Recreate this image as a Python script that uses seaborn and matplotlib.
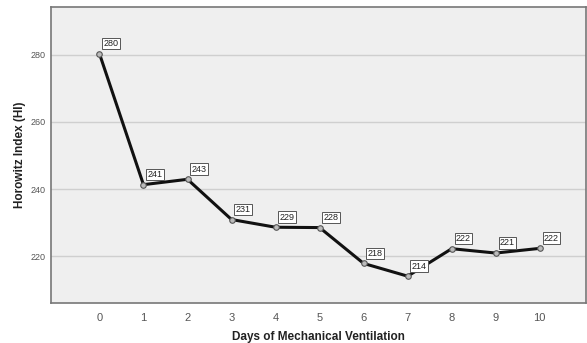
import seaborn as sns
import matplotlib.pyplot as plt
import matplotlib as mpl
import pandas as pd
mpl.use("Agg")

# days and mean Horowitz index
days = [0, 1, 2, 3, 4, 5, 6, 7, 8, 9, 10]
hi_mean = [280.4, 241.3, 242.9, 230.9, 228.6, 228.5, 217.8, 214.0, 222.2, 220.9, 222.3]
hi_labels = ['280', '241', '243', '231', '229', '228', '218', '214', '222', '221', '222']
yticks = [220, 240, 260, 280]

df = pd.DataFrame({'day': days, 'hi': hi_mean})

sns.set_style('white')
plt.rcParams['font.family'] = ['Liberation Sans', 'DejaVu Sans']

fig = plt.figure(figsize=(5.87, 3.43), dpi=100)
ax = fig.add_axes([51/587, 40/343, 535/587, 296/343])
ax.set_facecolor('#efefef')

sns.lineplot(data=df, x='day', y='hi', ax=ax, color='#111111', linewidth=2.2,
             marker='o', markersize=4, markerfacecolor='#bbbbbb',
             markeredgecolor='#555555', markeredgewidth=0.8, zorder=3)

for d, v, lab in zip(days, hi_mean, hi_labels):
    ax.annotate(lab, (d, v), xytext=(3, 4), textcoords='offset points',
                fontsize=6.5, color='#222222', ha='left', va='bottom',
                bbox=dict(boxstyle='square,pad=0.15', fc='white', ec='#555555', lw=0.7),
                zorder=4)

ax.set_xlim(-1.1, 11.05)
ax.set_ylim(206, 294.3)
ax.set_xticks(days)
ax.set_yticks(yticks)
ax.yaxis.grid(True, color='#cfcfcf', linewidth=1.0)
ax.set_axisbelow(True)
ax.tick_params(axis='x', labelsize=8, colors='#555555', length=0, pad=7)
ax.tick_params(axis='y', labelsize=6.5, colors='#555555', length=0, pad=4)
for s in ax.spines.values():
    s.set_color('#777777')
    s.set_linewidth(1.2)
ax.set_xlabel('Days of Mechanical Ventilation', fontsize=8.5, fontweight='bold',
              color='#222222', labelpad=6)
ax.set_ylabel('Horowitz Index (HI)', fontsize=8.5, fontweight='bold',
              color='#222222', labelpad=3)

fig.savefig('out.png', dpi=100, facecolor='white')
